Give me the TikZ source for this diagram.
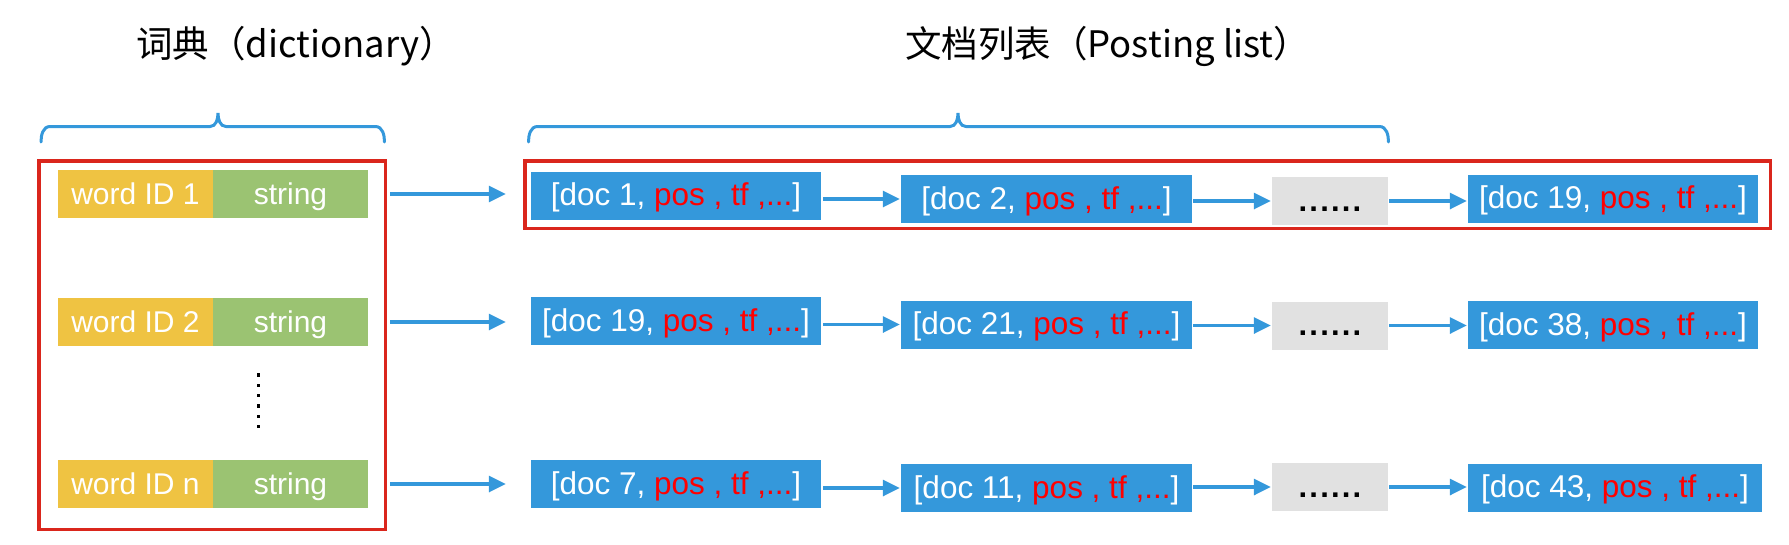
\documentclass[tikz,border=0pt]{standalone}
\usepackage{fontspec}
\setmainfont{Liberation Sans}
\newfontfamily\cjk{Noto Sans CJK SC}
\usetikzlibrary{arrows.meta}
\definecolor{bluec}{RGB}{52,152,219}
\definecolor{yellowc}{RGB}{239,195,66}
\definecolor{greenc}{RGB}{155,195,114}
\definecolor{greyc}{RGB}{225,225,225}
\definecolor{redbox}{RGB}{218,38,28}
\definecolor{redt}{RGB}{255,0,0}
\newcommand\doct[1]{[doc #1, \textcolor{redt}{pos , tf ,.\kern0pt.\kern0pt.}]}
\newcommand\sixdots{.\kern2.2pt.\kern2.2pt.\kern2.2pt.\kern2.2pt.\kern2.2pt.}
\begin{document}
\begin{tikzpicture}[x=1pt,y=-1pt,
  cell/.style={inner sep=0pt, minimum height=48pt, text height=22pt, text depth=2pt},
  wid/.style={cell, fill=yellowc, text=white, minimum width=155pt, font=\fontsize{30}{34}\selectfont},
  strbox/.style={cell, fill=greenc, text=white, minimum width=155pt, font=\fontsize{30}{34}\selectfont},
  docbox/.style={cell, fill=bluec, text=white, minimum width=290pt, font=\fontsize{31.5}{36}\selectfont},
  gapbox/.style={cell, fill=greyc, text=black, minimum width=116pt, font=\bfseries\fontsize{31}{34}\selectfont},
  titletext/.style={inner sep=0pt, anchor=base west, font=\cjk\fontsize{36.5}{42}\selectfont},
  arr/.style={draw=bluec, line width=3.2pt, -{Triangle[length=17pt,width=16pt]}},
  brace/.style={draw=bluec, line width=3pt, line cap=round},
  redframe/.style={draw=redbox, line width=3.5pt}
]
\useasboundingbox (0,0) rectangle (1789,544);

% titles
\node[titletext] (t1) at (136,57) {词典（dictionary）};
\node[titletext] (t2) at (905,57) {文档列表（Posting list）};

% braces
\draw[brace] (41,142) to[out=90,in=180] (50,126.5) -- (210,126.5)
  to[out=0,in=-90] (218,113) to[out=-90,in=180] (226,126.5) -- (375.5,126.5)
  to[out=0,in=90] (384.5,142);
\draw[brace] (528.5,142) to[out=90,in=180] (537.5,126.5) -- (950,126.5)
  to[out=0,in=-90] (958,113) to[out=-90,in=180] (966,126.5) -- (1379.5,126.5)
  to[out=0,in=90] (1388.5,142);

% red frames
\draw[redframe] (38.75,160.75) rectangle (385.25,529.25);
\draw[redframe] (524.75,160.75) rectangle (1770.25,228.25);

% dictionary
\node[wid] (w1) at (135.5,194) {word ID 1};
\node[strbox] (s1) at (290.5,194) {string};
\node[wid] (w2) at (135.5,322) {word ID 2};
\node[strbox] (s2) at (290.5,322) {string};
\node[wid] (wn) at (135.5,484) {word ID n};
\node[strbox] (sn) at (290.5,484) {string};
\foreach \i in {0,...,5}
  \fill[black] (256.6,{373.3+10.35*\i}) rectangle ++(3.4,3.4);

% posting lists
\node[docbox] (d11) at (676,195.5) {\doct{1}};
\node[docbox, minimum width=291pt] (d12) at (1046.5,199) {\doct{2}};
\node[gapbox] (g1) at (1330,201) {\sixdots};
\node[docbox] (d14) at (1613,198.5) {\doct{19}};

\node[docbox] (d21) at (676,321) {\doct{19}};
\node[docbox, minimum width=291pt] (d22) at (1046.5,324.5) {\doct{21}};
\node[gapbox] (g2) at (1330,325.5) {\sixdots};
\node[docbox] (d24) at (1613,325) {\doct{38}};

\node[docbox] (d31) at (676,484) {\doct{7}};
\node[docbox, minimum width=291pt] (d32) at (1046.5,488) {\doct{11}};
\node[gapbox] (g3) at (1330,487) {\sixdots};
\node[docbox, minimum width=294pt] (d34) at (1615,487.5) {\doct{43}};

% arrows
\foreach \s/\a/\b/\g/\c in {s1/d11/d12/g1/d14, s2/d21/d22/g2/d24, sn/d31/d32/g3/d34}{
  \draw[arr, shorten <=22pt, shorten >=25pt] (\s.east) -- (\s.east -| \a.west);
  \draw[arr, shorten <=2pt, shorten >=1pt] (\b.west -| \a.east) -- (\b.west);
  \draw[arr, shorten <=1pt, shorten >=1pt] (\g.west -| \b.east) -- (\g.west);
  \draw[arr, shorten <=1pt, shorten >=1pt] (\g.east) -- (\g.east -| \c.west);
}
\end{tikzpicture}
\end{document}
